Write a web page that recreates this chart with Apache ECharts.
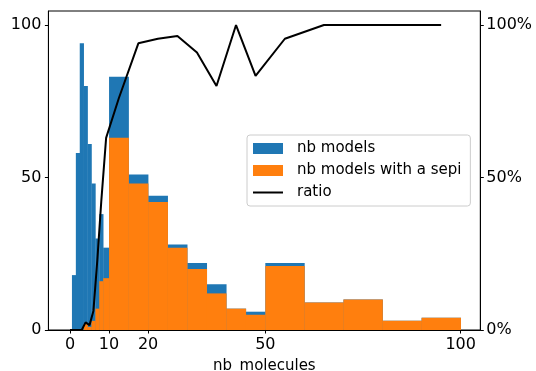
<!DOCTYPE html>
<html>
<head>
<meta charset="utf-8">
<script src="https://cdn.jsdelivr.net/npm/echarts@6/dist/echarts.min.js"></script>
<style>
html, body { margin: 0; padding: 0; background: #fff; }
#chart { width: 536px; height: 371px; }
</style>
</head>
<body>
<div id="chart"></div>
<script>
// bin edges of nb_molecules (unit bins first, then 5 and 10 wide)
var binEdges = [-0.5, 0.5, 1.5, 2.5, 3.5, 4.5, 5.5, 6.5, 7.5, 8.5, 10,
  15, 20, 25, 30, 35, 40, 45, 50, 60, 70, 80, 90, 100];
var nbModels = [0, 18, 58, 94, 80, 61, 48, 30, 38, 27,
  83, 51, 44, 28, 22, 15, 7, 6, 22, 9, 10, 3, 4];
var nbSepi = [0, 0, 0, 0, 2, 1, 3, 7, 16, 17,
  63, 48, 42, 27, 20, 12, 7, 5, 21, 9, 10, 3, 4];
var ratio = [0, 0, 0, 0, 0.025, 0.016, 0.0625, 0.23, 0.42, 0.63,
  0.76, 0.94, 0.955, 0.964, 0.91, 0.80, 1.0, 0.833, 0.955, 1, 1, 1, 1];
var xTicks = [0, 10, 20, 50, 100];
var countTicks = [0, 50, 100];
var ratioTicks = [0, 0.5, 1];

var FONT = 'DejaVu Sans';

function binData(values) {
  var out = [];
  for (var i = 0; i < values.length; i++) {
    out.push([binEdges[i], binEdges[i + 1], values[i]]);
  }
  return out;
}

var ratioData = [];
for (var i = 0; i < ratio.length; i++) {
  ratioData.push([(binEdges[i] + binEdges[i + 1]) / 2, ratio[i]]);
}

function barItem(color) {
  return function (params, api) {
    var top = api.coord([api.value(0), api.value(2)]);
    var bottom = api.coord([api.value(1), 0]);
    return {
      type: 'rect',
      shape: { x: top[0], y: top[1], width: bottom[0] - top[0] + 0.3, height: bottom[1] - top[1] },
      style: { fill: color }
    };
  };
}

// plain line icon for the ratio legend entry (specks keep the 30x11 box)
var lineIcon = 'path://M0,4.5H30V6.5H0Z M0,0H0.01V0.01H0Z M0,11H0.01V11.01H0Z';

var axisLineStyle = { color: '#000', width: 1 };

var myChart = echarts.init(document.getElementById('chart'));
myChart.setOption({
  animation: false,
  textStyle: { fontFamily: FONT },
  grid: {
    left: 48.4, right: 55.7, top: 11, bottom: 41,
    outerBoundsMode: 'none',
    containLabel: false,
    show: true, borderColor: '#000', borderWidth: 1
  },
  legend: {
    orient: 'vertical',
    left: 247, top: 135,
    padding: [6, 9, 6, 6],
    itemWidth: 30, itemHeight: 11, itemGap: 7,
    borderColor: '#cccccc', borderWidth: 1, borderRadius: 3,
    backgroundColor: 'rgba(255,255,255,0.8)',
    textStyle: { fontFamily: FONT, fontSize: 15, color: '#000', lineHeight: 15, padding: [0, 0, 0, 9] },
    data: [
      { name: 'nb models', icon: 'rect' },
      { name: 'nb models with a sepi', icon: 'rect' },
      { name: 'ratio', icon: lineIcon }
    ]
  },
  xAxis: {
    type: 'value',
    min: -5.525, max: 105.025,
    z: 10,
    name: 'nb_molecules',
    nameLocation: 'middle',
    nameGap: 24,
    nameTextStyle: { fontFamily: FONT, fontSize: 15, color: '#000', lineHeight: 18 },
    axisLine: { show: true, onZero: false, lineStyle: axisLineStyle },
    axisTick: { show: true, length: 3.5, customValues: xTicks, lineStyle: axisLineStyle },
    axisLabel: { customValues: xTicks, margin: 6.5, fontFamily: FONT, fontSize: 16, color: '#000' },
    splitLine: { show: false }
  },
  yAxis: [
    {
      type: 'value',
      min: 0, max: 104.6,
      z: 10,
      axisLine: { show: true, onZero: false, lineStyle: axisLineStyle },
      axisTick: { show: true, length: 3.5, customValues: countTicks, lineStyle: axisLineStyle },
      axisLabel: { customValues: countTicks, margin: 7, fontFamily: FONT, fontSize: 16, color: '#000' },
      splitLine: { show: false }
    },
    {
      type: 'value',
      min: 0, max: 1.046,
      position: 'right',
      z: 10,
      axisLine: { show: true, onZero: false, lineStyle: axisLineStyle },
      axisTick: { show: true, length: 3.5, customValues: ratioTicks, lineStyle: axisLineStyle },
      axisLabel: {
        customValues: ratioTicks, margin: 6, fontFamily: FONT, fontSize: 16, color: '#000',
        formatter: function (v) { return Math.round(v * 100) + '%'; }
      },
      splitLine: { show: false }
    }
  ],
  series: [
    {
      name: 'nb models',
      type: 'custom',
      renderItem: barItem('#1f77b4'),
      itemStyle: { color: '#1f77b4' },
      encode: { x: [0, 1], y: 2 },
      data: binData(nbModels),
      clip: true
    },
    {
      name: 'nb models with a sepi',
      type: 'custom',
      renderItem: barItem('#ff7f0e'),
      itemStyle: { color: '#ff7f0e' },
      encode: { x: [0, 1], y: 2 },
      data: binData(nbSepi),
      clip: true
    },
    {
      name: 'ratio',
      type: 'line',
      yAxisIndex: 1,
      data: ratioData,
      symbol: 'none',
      lineStyle: { color: '#000', width: 2 },
      itemStyle: { color: '#000' },
      z: 5
    }
  ]
});
</script>
</body>
</html>
